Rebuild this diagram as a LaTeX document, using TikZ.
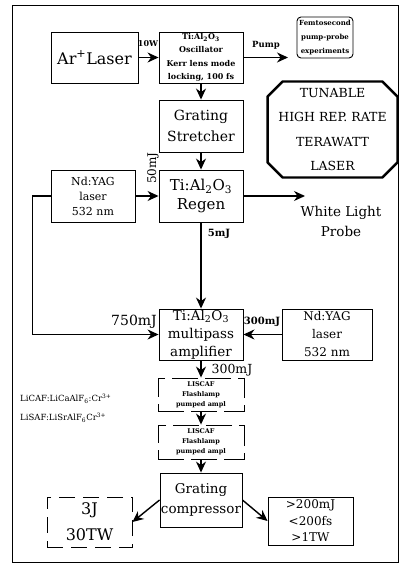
\documentclass[tikz,border=0pt]{standalone}
\usepackage{fontspec}
\setmainfont{DejaVu Serif}
\usepackage{tikz}
\usetikzlibrary{positioning,arrows.meta}

\newcommand{\fsz}[2]{\fontsize{#1}{#2}\selectfont}

\begin{document}
\begin{tikzpicture}[
  x=1pt, y=-1pt,
  box/.style={rectangle, draw, line width=0.9pt, align=center, inner sep=0pt},
  dashbox/.style={box, dash pattern=on 26pt off 7pt},
  lbl/.style={inner sep=0pt, font=\bfseries\fsz{10}{12}},
  arrow/.style={-{Stealth[length=11pt,width=10pt]}, line width=1.4pt},
  every node/.style={text=black}
]
\useasboundingbox (0,0) rectangle (405,564);
\draw[line width=0.9pt] (12,5) rectangle (398,562);

\node[box, minimum width=87pt, minimum height=51pt, font=\fsz{16}{18}] (ar_laser) at (94.5,57.5) {Ar\textsuperscript{+}Laser};
\node[box, minimum width=84pt, minimum height=51pt, font=\bfseries\fsz{8}{13.5}] (oscillator) at (201,57.5) {Ti:Al\textsubscript{2}O\textsubscript{3}\\ Oscillator\\ Kerr lens mode\\ locking, 100 fs};
\node[box, rounded corners=4pt, minimum width=56pt, minimum height=41pt, font=\bfseries\fsz{7}{14}] (femto) at (325,37.5) {Femtosecond\\ pump-probe\\ experiments};
\coordinate (pump_end) at (288,57.5);

\node[box, minimum width=84pt, minimum height=52pt, font=\fsz{14}{21}] (stretcher) at (201,126) {Grating\\ Stretcher};
\node[box, draw=none, minimum width=129pt, minimum height=95pt, font=\fsz{12.5}{24.5}] (banner) at (332.5,129.5) {TUNABLE\\ HIGH REP. RATE\\ TERAWATT\\ LASER};
\draw[line width=2.4pt, line join=round]
  ([xshift=15pt]banner.north west) -- ([xshift=-15pt]banner.north east)
  -- ([yshift=-15pt]banner.north east) -- ([yshift=15pt]banner.south east)
  -- ([xshift=-15pt]banner.south east) -- ([xshift=15pt]banner.south west)
  -- ([yshift=15pt]banner.south west) -- ([yshift=-15pt]banner.north west) -- cycle;

\node[box, minimum width=84pt, minimum height=52pt, font=\fsz{15}{19}] (regen) at (201,196) {Ti:Al\textsubscript{2}O\textsubscript{3}\\ Regen};
\node[box, minimum width=84pt, minimum height=52pt, font=\fsz{11}{15}] (yag_top) at (93,196) {Nd:YAG\\ laser\\ 532 nm};
\coordinate (white_end) at (305,196);

\node[box, minimum width=84pt, minimum height=51pt, font=\fsz{13.5}{18}] (multipass) at (201,334.5) {Ti:Al\textsubscript{2}O\textsubscript{3}\\ multipass\\ amplifier};
\node[box, minimum width=90pt, minimum height=51pt, font=\fsz{12}{18}] (yag_right) at (327,334.5) {Nd:YAG\\ laser\\ 532 nm};

\node[dashbox, minimum width=86pt, minimum height=33pt, font=\bfseries\fsz{6.5}{10}] (liscaf_a) at (201,394.5) {LISCAF\\ Flashlamp\\ pumped ampl};
\node[dashbox, minimum width=86pt, minimum height=34pt, font=\bfseries\fsz{6.5}{10}] (liscaf_b) at (201,442) {LISCAF\\ Flashlamp\\ pumped ampl};

\node[box, minimum width=82pt, minimum height=54pt, font=\fsz{13.5}{20}] (compressor) at (201,500) {Grating\\ compressor};
\node[box, dash pattern=on 16pt off 8pt, minimum width=85pt, minimum height=50pt, font=\fsz{16}{26}] (out_tw) at (89.5,522) {3J\\ 30TW};
\node[box, minimum width=85pt, minimum height=48pt, font=\fsz{12}{16.5}] (out_res) at (310.5,521) {>200mJ\\ <200fs\\ >1TW};

% labels
\node[lbl, font=\bfseries\fsz{8}{10}] (lbl_10w) at (148,44) {10W};
\node[lbl, font=\bfseries\fsz{8.5}{10}] (lbl_pump) at (266,45) {Pump};
\node[lbl, rotate=90, font=\fsz{12}{14}] (lbl_50) at (153,168) {50mJ};
\node[lbl, font=\bfseries\fsz{10}{12}] (lbl_5) at (219,234) {5mJ};
\node[lbl, font=\fsz{14}{16}] (lbl_750) at (134,322) {750mJ};
\node[lbl, font=\bfseries\fsz{10}{12}] (lbl_300r) at (262,322) {300mJ};
\node[lbl, font=\fsz{12.5}{14}] (lbl_300) at (232,370) {300mJ};
\node[lbl, align=center, font=\fsz{13.5}{20}] (lbl_white) at (341,221) {White Light\\ Probe};
\node[lbl, anchor=west, align=left, font=\fsz{8.5}{19}] (legend) at (20,408.5) {LiCAF:LiCaAlF\textsubscript{6}:Cr\textsuperscript{3+}\\ LiSAF:LiSrAlF\textsubscript{6}Cr\textsuperscript{3+}};

% arrows
\draw[arrow] (ar_laser) -- (oscillator);
\draw[arrow] (oscillator) -- (pump_end);
\draw[arrow] (oscillator) -- (stretcher);
\draw[arrow] (stretcher) -- (regen);
\draw[arrow] (yag_top) -- (regen);
\draw[arrow] (regen) -- (white_end);
\draw[arrow] (regen) -- (multipass);
\draw[arrow] (yag_top.west) -- ++(-18,0) |- (multipass.west);
\draw[arrow] (yag_right) -- (multipass);
\draw[arrow] (multipass) -- (liscaf_a);
\draw[arrow] (liscaf_a) -- (liscaf_b);
\draw[arrow] (liscaf_b) -- (compressor);
\draw[arrow] (compressor.west) -- (out_tw.east);
\draw[arrow] (compressor.east) -- (out_res.west);

\end{tikzpicture}
\end{document}
